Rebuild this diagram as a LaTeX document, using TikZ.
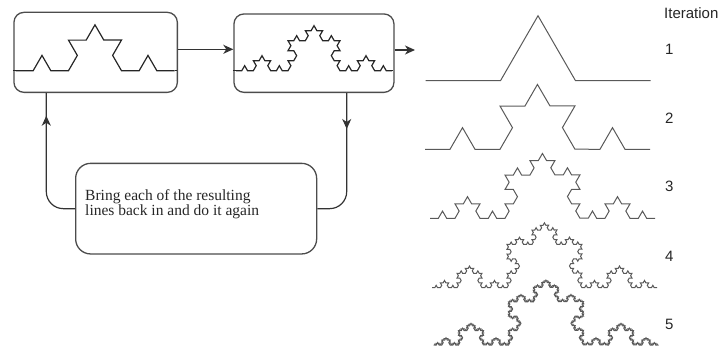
\documentclass[tikz,border=0pt]{standalone}
\usepackage{fontspec}
\setmainfont{Liberation Serif}
\newfontfamily\labelfont{Liberation Sans}
\usetikzlibrary{decorations.fractals,arrows.meta}
\begin{document}
\begin{tikzpicture}[x=1pt,y=-1pt,
  box/.style={draw=black!70,line width=1.3pt,inner sep=0pt,anchor=north west},
  conn/.style={draw=black!80,line width=1.2pt},
  tip/.style={-{Stealth[length=10pt,width=9pt,inset=3pt]}},
  koch/.style={decoration=Koch snowflake,draw=black!85,line width=1.2pt},
  kochR/.style={decoration=Koch snowflake,draw=black!65,line width=1pt},
  lbl/.style={font=\labelfont\fontsize{15}{18}\selectfont,anchor=west,text=black!85,inner sep=0pt},
  txt/.style={font=\fontsize{15.5}{15}\selectfont,anchor=base west,inner sep=0pt,text=black!85}
]
\useasboundingbox (0,0) rectangle (719,345);
\clip (0,0) rectangle (719,345);
% boxes
\node[box,rounded corners=10pt,minimum width=163.4pt,minimum height=80pt] (b1) at (13.3,11.7) {};
\node[box,rounded corners=10pt,minimum width=160pt,minimum height=78.4pt] (b2) at (233.3,13.3) {};
\node[box,rounded corners=15pt,minimum width=241pt,minimum height=90.6pt] (b3) at (75,162.7) {};
% text
\node[txt] (t1) at (85,200.3) {Bring each of the resulting};
\node[txt] (t2) at (85,215.3) {lines back in and do it again};
% koch curves in boxes
\draw[koch] (13.3,70.7) -- (15.5,70.7);
\draw[koch] decorate{decorate{(15.5,70.7) -- (174.5,70.7)}};
\draw[koch] (174.5,70.7) -- (176.7,70.7);
\draw[koch] (233.3,70.7) -- (236,70.7);
\draw[koch] decorate{decorate{decorate{(236,70.7) -- (392,70.7)}}};
\draw[koch] (392,70.7) -- (393.3,70.7);
% connectors
\coordinate (out) at (415,50);
\draw[conn,tip] (b1.east |- 0,49.3) -- (b2.west |- 0,49.3);
\draw[conn,tip] (b2.east |- out) -- (out);
\coordinate (dtip) at (346.7,129);
\draw[conn,rounded corners=17pt] (b2.south -| dtip) |- (b3.east);
\draw[conn,tip] (b2.south -| dtip) -- (dtip);
\coordinate (utip) at (46.3,115.7);
\draw[conn,rounded corners=17pt] (b3.west) -| (b1.south -| utip);
\draw[conn,tip] (46.3,170) -- (utip);
% right side iterations
\draw[kochR] decorate{(425.5,80.7) -- (650.5,80.7)};
\draw[kochR] decorate{decorate{(425,149.3) -- (650,149.3)}};
\draw[kochR] decorate{decorate{decorate{(430,218.3) -- (655,218.3)}}};
\draw[kochR] decorate{decorate{decorate{decorate{(432,287.7) -- (657,287.7)}}}};
\draw[kochR] decorate{decorate{decorate{decorate{decorate{(433.5,345) -- (658.5,345)}}}}};
% labels
\node[lbl] (it) at (664,13.5) {Iteration};
\node[lbl] (n1) at (665,49) {1};
\node[lbl] (n2) at (665,118.3) {2};
\node[lbl] (n3) at (665,186.7) {3};
\node[lbl] (n4) at (665,256) {4};
\node[lbl] (n5) at (665,324) {5};
\end{tikzpicture}
\end{document}
